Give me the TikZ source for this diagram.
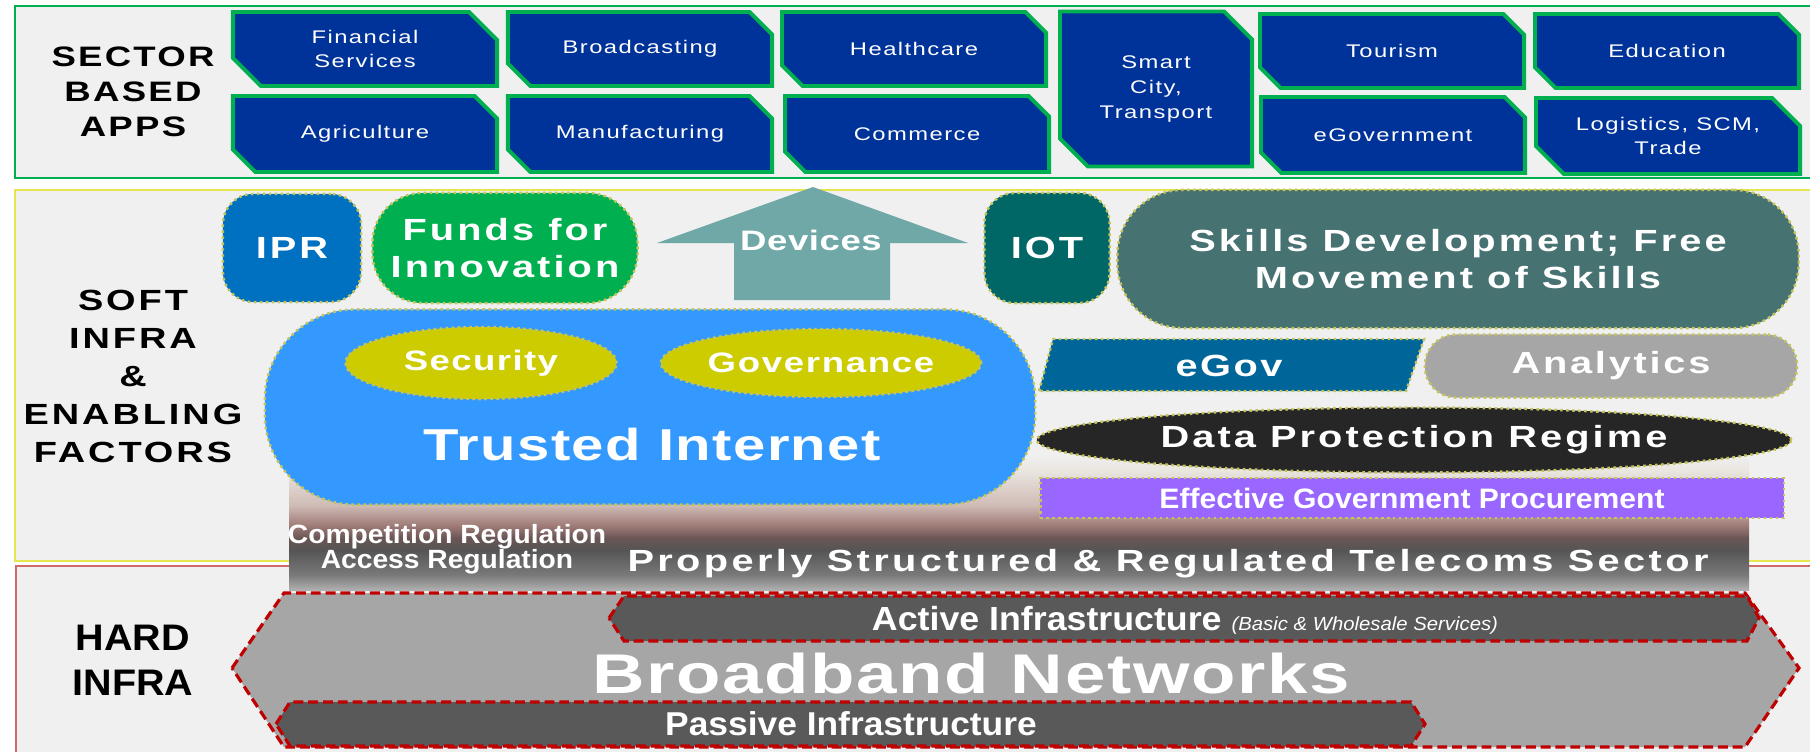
\documentclass[tikz,border=0pt]{standalone}
\usepackage{fontspec}
\setmainfont{Liberation Sans}[FakeStretch=1.3]
\newfontfamily\narrowfont{Liberation Sans}[FakeStretch=1.07]
\usetikzlibrary{shapes.misc,shapes.geometric}

\definecolor{panelbg}{HTML}{F0F0F0}
\definecolor{appblue}{HTML}{003399}
\definecolor{appgreen}{HTML}{00B050}
\definecolor{softline}{HTML}{E6E650}
\definecolor{hardline}{HTML}{D06A6A}
\definecolor{dotline}{HTML}{C4C45A}
\definecolor{iprblue}{HTML}{0070C0}
\definecolor{fundsgreen}{HTML}{00B050}
\definecolor{devteal}{HTML}{70A8A8}
\definecolor{iotteal}{HTML}{006666}
\definecolor{skillteal}{HTML}{477272}
\definecolor{trustblue}{HTML}{3399FF}
\definecolor{olive}{HTML}{CCCC00}
\definecolor{egovblue}{HTML}{006699}
\definecolor{anagrey}{HTML}{A6A6A6}
\definecolor{datablack}{HTML}{262626}
\definecolor{procpurple}{HTML}{9966FF}
\definecolor{netgrey}{HTML}{A6A6A6}
\definecolor{infradark}{HTML}{595959}
\definecolor{netred}{HTML}{C00000}
\definecolor{bandA}{HTML}{B0B0B0}
\definecolor{bandB}{HTML}{7A7A7A}
\definecolor{bandC}{HTML}{555555}
\definecolor{bandD}{HTML}{6A5655}
\definecolor{bandE}{HTML}{A07C78}
\definecolor{bandF}{HTML}{D0BCB6}
\definecolor{bandG}{HTML}{EAE6E0}

\pgfdeclareverticalshading{bandshade}{100bp}{color(0bp)=(bandA); color(25bp)=(bandA);
  color(30.5bp)=(bandB); color(39.8bp)=(bandC); color(44.3bp)=(bandD); color(49bp)=(bandE);
  color(56.5bp)=(bandF); color(69.4bp)=(bandG); color(75bp)=(panelbg); color(100bp)=(panelbg)}

\newcommand{\lsp}[1]{\addfontfeature{LetterSpace=#1}}

\tikzset{
  panel/.style={fill=panelbg, line width=0.6pt},
  lbl/.style={align=center, inner sep=0pt, font=\fontsize{8}{10}\selectfont\bfseries\lsp{8}},
  app/.style={chamfered rectangle, chamfered rectangle corners={north east,south west},
    chamfered rectangle xsep=0.14cm, chamfered rectangle ysep=0.14cm,
    fill=appblue, draw=appgreen, line width=1.1pt, text=white, align=center, inner sep=0pt,
    minimum width=2.64cm, minimum height=0.74cm, font=\fontsize{5.2}{7}\selectfont\lsp{8}},
  soft/.style={draw=dotline, densely dotted, line width=0.7pt, inner sep=0pt},
  wtxt/.style={text=white, align=center, inner sep=0pt, font=\fontsize{8.7}{10.6}\selectfont\bfseries\lsp{10}},
  ntxt/.style={text=white, align=center, inner sep=0pt, font=\narrowfont\fontsize{8}{9.2}\selectfont\bfseries},
  net/.style={draw=netred, line width=0.9pt, dash pattern=on 2.8pt off 1.4pt},
}

\begin{document}
\begin{tikzpicture}[x=0.01cm,y=-0.01cm]
\useasboundingbox (0,0) rectangle (1810,751);

% the three layers
\filldraw[panel,draw=appgreen] (15,6) rectangle (1820,178);
\filldraw[panel,draw=softline] (15,190) rectangle (1820,561);
\filldraw[panel,draw=hardline] (16,566) rectangle (1820,760);

\node[lbl] (sector) at (133,92) {SECTOR\\BASED\\APPS};
\node[lbl, font=\fontsize{8.3}{10.8}\selectfont\bfseries\lsp{10}] (soft) at (133,376) {SOFT\\INFRA\\\&\\ENABLING\\FACTORS};
\node[lbl, font=\narrowfont\fontsize{10.5}{12.8}\selectfont\bfseries] (hard) at (133,660) {HARD\\INFRA};

% sector apps
\node[app] (financial) at (365,49) {Financial\\Services};
\node[app] (broadcasting) at (640,49) {Broadcasting};
\node[app] (healthcare) at (914,49) {Healthcare};
\node[app, minimum width=1.92cm, minimum height=1.55cm] (smartcity) at (1156,89) {Smart\\City,\\Transport};
\node[app] (tourism) at (1392,51) {Tourism};
\node[app] (education) at (1667,51) {Education};
\node[app, minimum height=0.76cm] (agriculture) at (365,134) {Agriculture};
\node[app, minimum height=0.76cm] (manufacturing) at (640,134) {Manufacturing};
\node[app, minimum height=0.76cm] (commerce) at (917,134) {Commerce};
\node[app, minimum height=0.76cm] (egovernment) at (1393,135) {eGovernment};
\node[app, minimum height=0.76cm] (logistics) at (1668,136) {Logistics, SCM,\\Trade};

% gradient under the enabling factors
\shade[shading=bandshade] (289,455) rectangle (1749,590);

% soft infra
\node[soft, fill=iprblue, rounded corners=0.3cm, minimum width=1.38cm, minimum height=1.08cm, wtxt] (ipr) at (292,248) {IPR};
\node[soft, fill=fundsgreen, rounded corners=0.5cm, minimum width=2.65cm, minimum height=1.1cm, wtxt] (funds) at (505,248) {Funds for\\Innovation};
\fill[devteal] (657,243) -- (813,187) -- (968,243) -- (890,243) -- (890,300) -- (734,300) -- (734,243) -- cycle;
\node[wtxt, font=\fontsize{8}{9.6}\selectfont\bfseries\lsp{2}] (devices) at (811,240) {Devices};
\node[soft, fill=iotteal, rounded corners=0.3cm, minimum width=1.25cm, minimum height=1.1cm, wtxt] (iot) at (1047,248) {IOT};
\node[soft, fill=skillteal, rounded corners=0.65cm, minimum width=6.81cm, minimum height=1.38cm, wtxt] (skills) at (1458,259) {Skills Development; Free\\Movement of Skills};

\node[soft, fill=trustblue, rounded corners=0.9cm, minimum width=7.7cm, minimum height=1.95cm] (trusted) at (650,407) {};
\node[soft, ellipse, fill=olive, minimum width=2.71cm, minimum height=0.72cm, wtxt, font=\fontsize{8}{9.6}\selectfont\bfseries\lsp{5}] (security) at (481,363) {Security};
\node[soft, ellipse, fill=olive, minimum width=2.73cm, minimum height=0.68cm, wtxt, font=\fontsize{8}{9.6}\selectfont\bfseries\lsp{6}] (governance) at (821,363) {Governance};
\node[wtxt, font=\fontsize{12.7}{15}\selectfont\bfseries\lsp{3}] (internet) at (652,445) {Trusted Internet};

\filldraw[soft, fill=egovblue] (1039,391) -- (1053,339) -- (1424,339) -- (1406,391) -- cycle;
\node[wtxt, font=\fontsize{8.7}{10.6}\selectfont\bfseries\lsp{8}] (egov) at (1229,366) {eGov};
\node[soft, fill=anagrey, rounded corners=0.31cm, minimum width=3.72cm, minimum height=0.63cm, wtxt, font=\fontsize{8.7}{10.6}\selectfont\bfseries\lsp{9}] (analytics) at (1611,366) {Analytics};
\node[soft, ellipse, fill=datablack, minimum width=7.54cm, minimum height=0.65cm, wtxt] (dataprot) at (1414,440) {Data Protection Regime};
\node[soft, fill=procpurple, minimum width=7.43cm, minimum height=0.4cm, ntxt] (procure) at (1412,498) {Effective Government Procurement};

\node[ntxt, font=\narrowfont\fontsize{7.5}{9}\selectfont\bfseries] (competition) at (447,537) {Competition Regulation};
\node[ntxt, font=\narrowfont\fontsize{7.5}{9}\selectfont\bfseries] (access) at (447,562) {Access Regulation};
\node[wtxt, font=\fontsize{8.7}{10.6}\selectfont\bfseries\lsp{11}] (telecoms) at (1168,564) {Properly Structured \& Regulated Telecoms Sector};

% hard infra
\filldraw[net, fill=netgrey] (232,668) -- (284,593) -- (1745,593) -- (1799,668) -- (1745,747) -- (284,747) -- cycle;
\filldraw[net, fill=infradark] (609,618) -- (624,596) -- (1747,596) -- (1759,618) -- (1747,641) -- (624,641) -- cycle;
\filldraw[net, fill=infradark] (276,724) -- (290,702) -- (1411,702) -- (1425,724) -- (1411,746) -- (290,746) -- cycle;
\node[wtxt, font=\fontsize{15.9}{18}\selectfont\bfseries\lsp{3}] (broadband) at (971,673) {Broadband Networks};
\node[ntxt, font=\narrowfont\fontsize{9.5}{11}\selectfont\bfseries] (active) at (1185,620) {Active Infrastructure {\fontsize{5.4}{6}\selectfont\mdseries\itshape(Basic \& Wholesale Services)}};
\node[ntxt, font=\narrowfont\fontsize{9.4}{11}\selectfont\bfseries] (passive) at (851,724) {Passive Infrastructure};
\end{tikzpicture}
\end{document}
